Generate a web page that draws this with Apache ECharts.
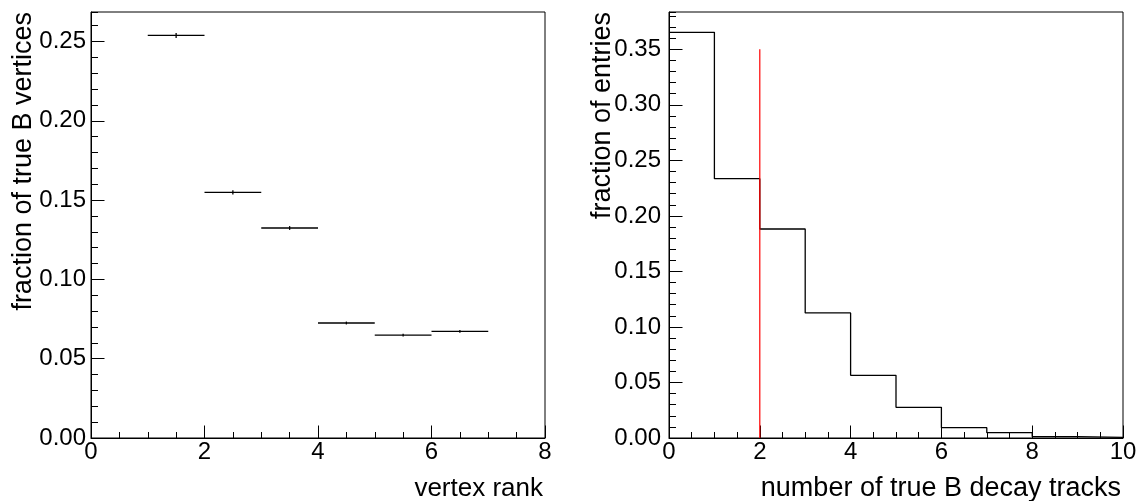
<!DOCTYPE html>
<html>
<head>
<meta charset="utf-8">
<script src="https://cdn.jsdelivr.net/npm/echarts@6/dist/echarts.min.js"></script>
<style>
html, body { margin: 0; padding: 0; background: #fff; }
#main { width: 1143px; height: 501px; }
</style>
</head>
<body>
<div id="main"></div>
<script>
// left pad: fraction of true B vertices per vertex rank
var rankCenters = [1.5, 2.5, 3.5, 4.5, 5.5, 6.5];
var rankFractions = [0.2538, 0.1549, 0.1324, 0.0725, 0.0649, 0.0672];
var rankErrors = [0.0016, 0.0013, 0.0012, 0.0009, 0.0009, 0.0009];
var rankBinWidth = 1;

// right pad: number of true B decay tracks histogram
var trackEdges = [0, 1, 2, 3, 4, 5, 6, 7, 8, 9, 10];
var trackFractions = [0.3653, 0.2335, 0.1882, 0.1126, 0.0564, 0.0276, 0.0093, 0.0048, 0.0013, 0.0006];
var cutValue = 2;
var cutHeight = 0.35;

var xTicksLeft = [0, 8];
var xTicksRight = [0, 10];
var yMaxLeft = 0.2686;
var yMaxRight = 0.3836;

var labelFont = "'Liberation Sans', Arial, Helvetica, sans-serif";

var rankData = [];
for (var i = 0; i < rankCenters.length; i++) {
    rankData.push([rankCenters[i], rankFractions[i], rankErrors[i]]);
}

var trackData = [];
for (var j = 0; j < trackFractions.length; j++) {
    trackData.push([trackEdges[j], trackFractions[j]]);
}
trackData.push([trackEdges[trackEdges.length - 1], trackFractions[trackFractions.length - 1]]);

function xAxisDef(grid, range){
    return {
        type: 'value', gridIndex: grid, min: range[0], max: range[1], interval: 2,
        axisLine: { show: true, onZero: false, lineStyle: { color: '#000', width: 1 } },
        axisTick: { show: true, inside: true, length: 12.5, lineStyle: { color: '#000', width: 1 } },
        minorTick: { show: true, splitNumber: 4, length: 6, lineStyle: { color: '#000', width: 1 } },
        splitLine: { show: false },
        axisLabel: { show: true, margin: 2, color: '#000', fontSize: 24, fontFamily: labelFont,
            showMinLabel: true, showMaxLabel: true }
    };
}
function yMajorDef(grid, max, margin){
    return {
        type: 'value', gridIndex: grid, min: 0, max: max, interval: 0.05, position: 'left',
        axisLine: { show: true, lineStyle: { color: '#000', width: 1 } },
        axisTick: { show: true, inside: true, length: 13.5, lineStyle: { color: '#000', width: 1 } },
        splitLine: { show: false },
        axisLabel: { show: true, margin: margin, color: '#000', fontSize: 24, fontFamily: labelFont,
            showMinLabel: true, showMaxLabel: false,
            formatter: function(v){ return v.toFixed(2); } }
    };
}
// second axis only for the 0.01 minor ticks
function yMinorDef(grid, max){
    return {
        type: 'value', gridIndex: grid, min: 0, max: max, interval: 0.01, position: 'left',
        axisLine: { show: false },
        axisTick: { show: true, inside: true, length: 7, lineStyle: { color: '#000', width: 1 } },
        splitLine: { show: false },
        axisLabel: { show: false }
    };
}

var option = {
    backgroundColor: '#fff',
    animation: false,
    grid: [
        { left: 91, top: 12, width: 454, height: 426, show: true, borderColor: '#000', borderWidth: 1, backgroundColor: 'transparent' },
        { left: 669, top: 12, width: 454, height: 426, show: true, borderColor: '#000', borderWidth: 1, backgroundColor: 'transparent' }
    ],
    xAxis: [ xAxisDef(0, xTicksLeft), xAxisDef(1, xTicksRight) ],
    yAxis: [
        yMajorDef(0, yMaxLeft, 5), yMinorDef(0, yMaxLeft),
        yMajorDef(1, yMaxRight, 8), yMinorDef(1, yMaxRight)
    ],
    graphic: [
        { type: 'text', x: 543, y: 489, style: { text: 'vertex rank', font: "26px " + labelFont, fill: '#000', align: 'right', verticalAlign: 'middle' } },
        { type: 'text', x: 1121, y: 489, style: { text: 'number of true B decay tracks', font: "27px " + labelFont, fill: '#000', align: 'right', verticalAlign: 'middle' } },
        { type: 'text', x: 24, y: 12, rotation: Math.PI / 2, style: { text: 'fraction of true B vertices', font: "27px " + labelFont, fill: '#000', align: 'right', verticalAlign: 'middle' } },
        { type: 'text', x: 602.5, y: 12, rotation: Math.PI / 2, style: { text: 'fraction of entries', font: "27px " + labelFont, fill: '#000', align: 'right', verticalAlign: 'middle' } }
    ],
    series: [
        {
            name: 'rank', type: 'custom', xAxisIndex: 0, yAxisIndex: 0,
            data: rankData,
            renderItem: function(params, api){
                var x = api.value(0), y = api.value(1), e = api.value(2);
                var a = api.coord([x - rankBinWidth / 2, y]);
                var b = api.coord([x + rankBinWidth / 2, y]);
                var c = api.coord([x, y - e]);
                var d = api.coord([x, y + e]);
                return {
                    type: 'group',
                    children: [
                        { type: 'line', shape: { x1: a[0], y1: a[1], x2: b[0], y2: b[1] }, style: { stroke: '#000', lineWidth: 1.3 } },
                        { type: 'line', shape: { x1: c[0], y1: c[1], x2: d[0], y2: d[1] }, style: { stroke: '#000', lineWidth: 1.3 } }
                    ]
                };
            }
        },
        {
            name: 'tracks', type: 'line', xAxisIndex: 1, yAxisIndex: 2,
            step: 'end', symbol: 'none', data: trackData,
            lineStyle: { color: '#000', width: 1.3 }
        },
        {
            name: 'cut', type: 'line', xAxisIndex: 1, yAxisIndex: 2,
            symbol: 'none', data: [[cutValue, 0], [cutValue, cutHeight]],
            lineStyle: { color: '#ff0000', width: 1.2 }
        }
    ]
};

var myChart = echarts.init(document.getElementById('main'));
myChart.setOption(option);
</script>
</body>
</html>
